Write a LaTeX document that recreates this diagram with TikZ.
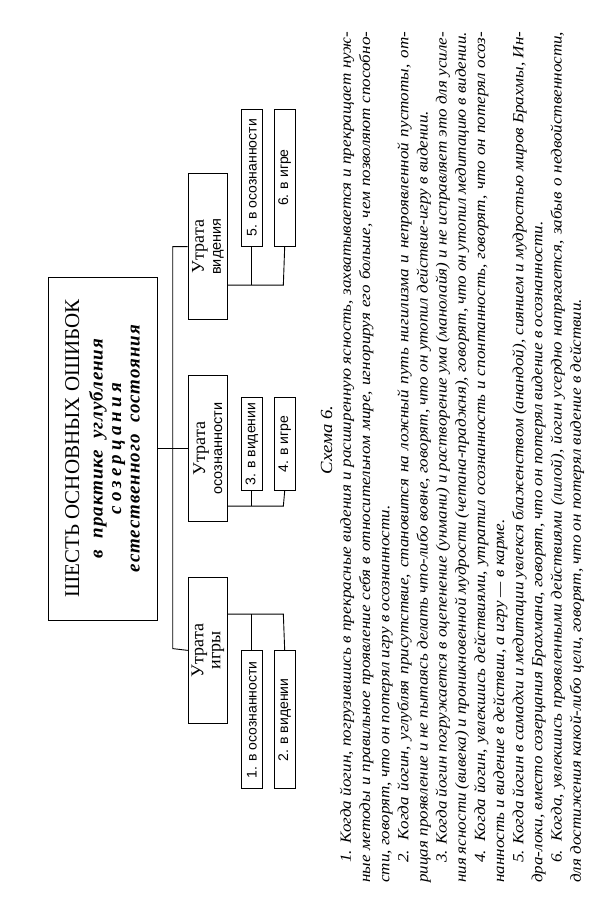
\documentclass[tikz,border=0pt]{standalone}
\usepackage{fontspec}
\setmainfont{Liberation Serif}
\setsansfont{Liberation Sans}
\newfontfamily\notefont[FakeStretch=1.1]{Liberation Serif}
\newfontfamily\subtitlefont[LetterSpace=5]{Liberation Serif}
\usetikzlibrary{positioning}

\tikzset{
  titlebox/.style={draw, line width=0.9pt, minimum width=343pt, minimum height=109pt,
    inner sep=0pt, align=center, font=\fontsize{19}{18.5}\selectfont},
  lossbox/.style={draw, line width=0.9pt, minimum width=146pt, minimum height=39.4pt,
    inner sep=0pt, align=center, font=\fontsize{18}{17}\selectfont},
  errbox/.style={draw, line width=0.9pt, minimum width=137pt, minimum height=21.4pt,
    inner sep=0pt, font=\sffamily\fontsize{14}{16}\selectfont},
  link/.style={line width=0.9pt},
  note/.style={text width=851pt, align=justify, inner sep=0pt,
    font=\notefont\itshape\fontsize{15.5}{19.15}\selectfont},
}

\begin{document}
\begin{tikzpicture}[rotate=90, transform shape, x=1pt, y=1pt]
    \useasboundingbox (0,0) rectangle (900,616);

    \node[titlebox] (title) at (451.5,513.5) {%
        {\fontsize{21}{21}\selectfont ШЕСТЬ ОСНОВНЫХ ОШИБОК}\\[5pt]
        {\subtitlefont\bfseries\itshape в~~практике~~углубления}\\
        {\subtitlefont\bfseries\itshape\addfontfeature{LetterSpace=22}созерцания}\\
        {\subtitlefont\bfseries\itshape естественного~~состояния}};

    \node[lossbox] (osz) [below=30.3pt of title] {Утрата\\{\sffamily\fontsize{14.5}{17}\selectfont осознанности}};
    \node[lossbox] (vid) [right=55pt of osz] {Утрата\\{\sffamily\fontsize{14.5}{17}\selectfont видения}};
    \node[lossbox] (igr) [left=55pt of osz] {Утрата\\игры};

    \node[errbox] (b5) [below right=12.6pt and 0pt of vid.south] {5. в осознанности};
    \node[errbox] (b6) [below=10.6pt of b5] {6. в игре};
    \node[errbox, minimum width=92.7pt] (b3) [below right=12.6pt and -42.5pt of osz.south] {3. в видении};
    \node[errbox, minimum width=92.7pt] (b4) [below=10.6pt of b3] {4. в игре};
    \node[errbox, minimum width=138pt] (b1) [below left=12.6pt and 0pt of igr.south] {1. в осознанности};
    \node[errbox, minimum width=138pt] (b2) [below=10.6pt of b1] {2. в видении};

    \draw[link] (title.south) -- (osz.north);
    \draw[link] (vid.north) -- ++(0,15) -- ++(-402,0) -- (igr.north);
    % wings
    \draw[link] (vid.south) ++(-38.5,0) -- ++(0,-55.3) -- (b6.west);
    \draw[link] (b5.west) -- ++(-38.5,0);
    \draw[link] (osz.south) ++(-57.7,0) -- ++(0,-55.3) -- (b4.west);
    \draw[link] (b3.west) -- ++(-15.2,0);
    \draw[link] (igr.south) ++(36.2,0) -- ++(0,-55.3) -- (b2.east);
    \draw[link] (b1.east) -- ++(36.2,0);

    \node[font=\notefont\itshape\fontsize{17}{20}\selectfont] (cap) at (460,289.5) {Схема 6.};

    \node[note, anchor=base west] (txt) at (17,265) {\hyphenpenalty=10000 \exhyphenpenalty=10000
\hspace*{20pt}1. Когда йогин, погрузившись в прекрасные видения и расширенную ясность, захватывается и прекращает нуж-\linebreak
ные методы и правильное проявление себя в относительном мире, игнорируя его больше, чем позволяют способно-\linebreak
сти, говорят, что он потерял игру в осознанности.\par
\hspace*{20pt}2. Когда йогин, углубляя присутствие, становится на ложный путь нигилизма и непроявленной пустоты, от-\linebreak
рицая проявление и не пытаясь делать что-либо вовне, говорят, что он утопил действие-игру в видении.\par
\hspace*{20pt}3. Когда йогин погружается в оцепенение (унмани) и растворение ума (манолайя) и не исправляет это для усиле-\linebreak
ния ясности (вивека) и проникновенной мудрости (четана-праджня), говорят, что он утопил медитацию в видении.\par
\hspace*{20pt}4. Когда йогин, увлекшись действиями, утратил осознанность и спонтанность, говорят, что он потерял осоз-\linebreak
нанность и видение в действии, а игру~— в карме.\par
\hspace*{20pt}5. Когда йогин в самадхи и медитации увлекся блаженством (анандой), сиянием и мудростью миров Брахмы, Ин-\linebreak
дра-локи, вместо созерцания Брахмана, говорят, что он потерял видение в осознанности.\par
\hspace*{20pt}6. Когда, увлекшись проявленными действиями (лилой), йогин усердно напрягается, забыв о недвойственности,\linebreak
для достижения какой-либо цели, говорят, что он потерял видение в действии.\par};
\end{tikzpicture}
\end{document}
